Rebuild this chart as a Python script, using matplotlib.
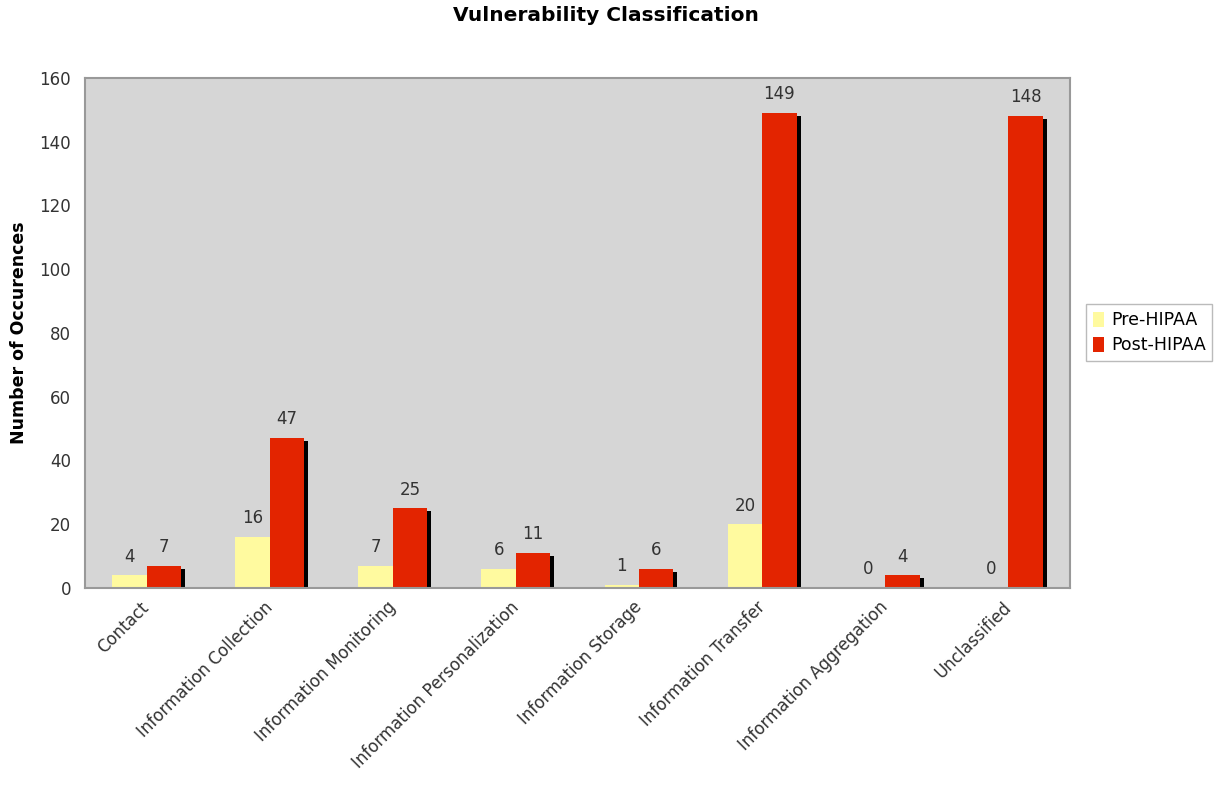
import numpy as np
import matplotlib
matplotlib.use("Agg")
import matplotlib.pyplot as plt
from matplotlib.transforms import ScaledTranslation

categories = ["Contact", "Information Collection", "Information Monitoring",
              "Information Personalization", "Information Storage",
              "Information Transfer", "Information Aggregation", "Unclassified"]
pre_hipaa = [4, 16, 7, 6, 1, 20, 0, 0]
post_hipaa = [7, 47, 25, 11, 6, 149, 4, 148]
y_ticks = [0, 20, 40, 60, 80, 100, 120, 140, 160]

PRE_COLOR = "#fffa9f"
POST_COLOR = "#e32400"

fig = plt.figure(figsize=(12.25, 8.02), dpi=100)
ax = fig.add_axes([0.0694, 0.267, 0.804, 0.636])
ax.set_facecolor("#d6d6d6")

x = np.arange(len(categories))
w = 0.28

# drop shadow behind the bars
shadow = ax.transData + ScaledTranslation(4 / 100, -3 / 100, fig.dpi_scale_trans)
for vals, off in [(pre_hipaa, -w / 2), (post_hipaa, w / 2)]:
    for xi, v in zip(x, vals):
        if v > 0:
            ax.bar(xi + off, v, width=w, color="black", transform=shadow,
                   zorder=1, clip_on=True)

ax.bar(x - w / 2, pre_hipaa, width=w, color=PRE_COLOR, label="Pre-HIPAA", zorder=2)
ax.bar(x + w / 2, post_hipaa, width=w, color=POST_COLOR, label="Post-HIPAA", zorder=2)

for xi, a, b in zip(x, pre_hipaa, post_hipaa):
    ax.text(xi - w / 2, a + 3, str(a), ha="center", va="bottom",
            fontsize=12, color="#333333", zorder=3)
    ax.text(xi + w / 2, b + 3, str(b), ha="center", va="bottom",
            fontsize=12, color="#333333", zorder=3)

ax.set_xlim(-0.5, len(categories) - 0.5)
ax.set_ylim(0, 160)
ax.set_yticks(y_ticks)
ax.set_xticks(x)
ax.set_xticklabels(categories, rotation=45, ha="right", va="center",
                   rotation_mode="anchor", fontsize=12, color="#333333")
ax.tick_params(axis="y", labelsize=12, labelcolor="#333333", length=0, pad=10)
ax.tick_params(axis="x", length=0, pad=12)
for s in ax.spines.values():
    s.set_color("#999999")
    s.set_linewidth(1.5)

ax.set_ylabel("Number of Occurences", fontsize=12.5, fontweight="bold", labelpad=8)
fig.text(0.495, 0.981, "Vulnerability Classification", ha="center", va="center",
         fontsize=14.5, fontweight="bold")

leg = ax.legend(loc="center left", bbox_to_anchor=(1.008, 0.5), fontsize=12.5,
                frameon=True, fancybox=False, handlelength=0.6, handleheight=0.9,
                handletextpad=0.4, borderpad=0.4, labelspacing=0.4)
leg.get_frame().set_edgecolor("#aaaaaa")

fig.savefig("out.png", dpi=100, facecolor="white")
